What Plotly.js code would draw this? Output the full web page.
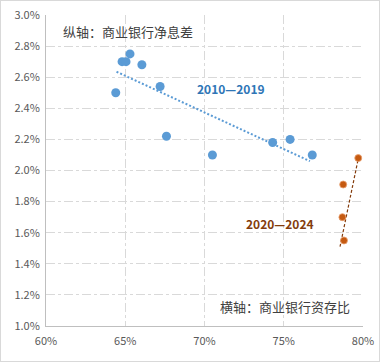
<!DOCTYPE html>
<html>
<head>
<meta charset="utf-8">
<script src="https://cdn.plot.ly/plotly-3.0.1.min.js"></script>
<style>
html,body{margin:0;padding:0;background:#fff;}
#chart{width:380px;height:362px;}
#frame{position:absolute;left:0;top:0;width:378px;height:360px;border:1px solid #d9d9d9;pointer-events:none;}
</style>
</head>
<body>
<div id="chart"></div>
<div id="frame"></div>
<script>
// 2010—2019: loan-to-deposit ratio (%) vs net interest margin (%)
const ldr2010 = [64.4, 64.8, 65.05, 65.3, 66.05, 67.2, 67.6, 70.5, 74.3, 75.4, 76.8];
const nim2010 = [2.50, 2.70, 2.70, 2.75, 2.68, 2.54, 2.22, 2.10, 2.18, 2.20, 2.10];
// 2020—2024
const ldr2020 = [78.8, 78.7, 78.75, 79.7];
const nim2020 = [1.55, 1.70, 1.91, 2.08];
// trend line end points
const trend2010X = [64.45, 76.65];
const trend2010Y = [2.635, 2.06];
const trend2020X = [78.55, 79.75];
const trend2020Y = [1.51, 2.10];

const xTickVals = [60, 65, 70, 75, 80];
const xTickText = ['60%', '65%', '70%', '75%', '80%'];
const yTickVals = [1.0, 1.2, 1.4, 1.6, 1.8, 2.0, 2.2, 2.4, 2.6, 2.8, 3.0];
const yTickText = ['1.0%', '1.2%', '1.4%', '1.6%', '1.8%', '2.0%', '2.2%', '2.4%', '2.6%', '2.8%', '3.0%'];

const font = '"Noto Sans CJK SC", "Noto Sans", sans-serif';

const traces = [
  {x: trend2010X, y: trend2010Y, mode: 'lines', type: 'scatter',
   line: {color: '#5b9bd5', width: 2, dash: '2px,2px'}, hoverinfo: 'skip'},
  {x: trend2020X, y: trend2020Y, mode: 'lines', type: 'scatter',
   line: {color: '#843c0c', width: 1.2, dash: '3px,2px'}, hoverinfo: 'skip'},
  {x: ldr2010, y: nim2010, mode: 'markers', type: 'scatter',
   marker: {color: '#5b9bd5', size: 9}},
  {x: ldr2020, y: nim2020, mode: 'markers', type: 'scatter',
   marker: {color: '#c55a11', size: 7, line: {color: '#e8a070', width: 0.8}}}
];

const layout = {
  width: 380, height: 362,
  margin: {l: 46, r: 17, t: 15, b: 36},
  paper_bgcolor: '#fff', plot_bgcolor: '#fff',
  showlegend: false,
  font: {family: font, color: '#595959', size: 11},
  xaxis: {
    range: [60, 80], tickvals: xTickVals, ticktext: xTickText,
    showline: true, linecolor: '#bfbfbf', linewidth: 1,
    showgrid: true, gridcolor: '#d9d9d9', griddash: 'dashdot', gridwidth: 1,
    zeroline: false, ticks: '', ticklen: 0, ticklabelstandoff: 5,
    tickfont: {family: font, size: 11, color: '#595959'}
  },
  yaxis: {
    range: [1.0, 3.0], tickvals: yTickVals, ticktext: yTickText,
    showline: true, linecolor: '#bfbfbf', linewidth: 1,
    showgrid: true, gridcolor: '#d9d9d9', griddash: 'dashdot', gridwidth: 1,
    zeroline: false, ticks: '', ticklen: 0, ticklabelstandoff: 3,
    tickfont: {family: font, size: 11, color: '#595959'}
  },
  annotations: [
    {text: '纵轴：商业银行净息差', xref: 'paper', yref: 'paper', x: 0.048, y: 0.948,
     xanchor: 'left', yanchor: 'middle', showarrow: false,
     font: {family: font, size: 13, color: '#404040'}},
    {text: '<b>2010—2019</b>', xref: 'x', yref: 'y', x: 71.7, y: 2.53,
     xanchor: 'center', yanchor: 'middle', showarrow: false,
     font: {family: font, size: 12, color: '#2e75b6'}},
    {text: '<b>2020—2024</b>', xref: 'x', yref: 'y', x: 74.75, y: 1.66,
     xanchor: 'center', yanchor: 'middle', showarrow: false,
     font: {family: font, size: 12, color: '#843c0c'}},
    {text: '横轴：商业银行资存比', xref: 'paper', yref: 'paper', x: 0.965, y: 0.063,
     xanchor: 'right', yanchor: 'middle', showarrow: false,
     font: {family: font, size: 13, color: '#404040'}}
  ]
};

Plotly.newPlot('chart', traces, layout, {displayModeBar: false, staticPlot: true});
</script>
</body>
</html>
